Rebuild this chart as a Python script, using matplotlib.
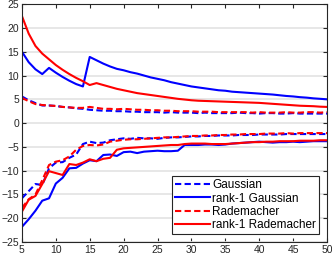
import numpy as np
import matplotlib
matplotlib.use('Agg')
import matplotlib.pyplot as plt

plt.rcParams['font.family'] = ['Liberation Sans', 'DejaVu Sans']

# number of samples
n = np.arange(5, 51)

# upper curves
gauss_up = [5.6, 4.8, 4.2, 3.7, 3.7, 3.6, 3.4, 3.3, 3.1, 3.0,
            2.8, 2.7, 2.6, 2.6, 2.5, 2.5, 2.4, 2.4, 2.3, 2.3,
            2.3, 2.2, 2.3, 2.2, 2.2, 2.2, 2.1, 2.2, 2.1, 2.1,
            2.1, 2.1, 2.2, 2.1, 2.1, 2.0, 2.1, 2.1, 2.0, 2.0,
            2.1, 2.0, 2.0, 2.0, 2.0, 2.0]
rank1_gauss_up = [15.0, 12.8, 11.3, 10.3, 11.6, 10.6, 9.7, 8.9, 8.2, 7.7,
                  13.9, 13.2, 12.5, 11.9, 11.4, 11.1, 10.7, 10.4, 10.0, 9.6,
                  9.3, 9.0, 8.6, 8.3, 8.0, 7.7, 7.5, 7.3, 7.1, 6.9,
                  6.8, 6.6, 6.5, 6.4, 6.3, 6.2, 6.1, 6.0, 5.85, 5.7,
                  5.6, 5.45, 5.35, 5.2, 5.1, 5.0]
radem_up = [5.3, 4.6, 4.0, 3.8, 3.7, 3.6, 3.4, 3.3, 3.2, 3.2,
            3.4, 3.2, 3.0, 3.0, 2.9, 3.0, 2.9, 2.8, 2.8, 2.7,
            2.7, 2.6, 2.6, 2.5, 2.5, 2.5, 2.4, 2.4, 2.4, 2.3,
            2.3, 2.3, 2.3, 2.3, 2.2, 2.3, 2.2, 2.2, 2.2, 2.3,
            2.2, 2.2, 2.3, 2.3, 2.2, 2.3]
rank1_radem_up = [22.5, 18.8, 16.2, 14.6, 13.4, 12.2, 11.2, 10.3, 9.5, 8.8,
                  8.0, 8.4, 8.0, 7.6, 7.2, 6.9, 6.6, 6.3, 6.1, 5.9,
                  5.7, 5.5, 5.3, 5.1, 4.95, 4.8, 4.7, 4.65, 4.6, 4.55,
                  4.5, 4.45, 4.4, 4.35, 4.3, 4.25, 4.15, 4.05, 3.95, 3.85,
                  3.75, 3.65, 3.6, 3.55, 3.45, 3.4]

# lower curves
gauss_lo = [-15.8, -14.3, -12.8, -13.0, -9.5, -8.3, -8.2, -7.3, -6.6, -4.4,
            -3.9, -4.2, -4.1, -3.6, -3.4, -3.2, -3.3, -3.1, -3.2, -3.2,
            -3.3, -3.1, -3.0, -3.0, -2.9, -2.8, -2.8, -2.7, -2.7, -2.6,
            -2.6, -2.6, -2.5, -2.5, -2.5, -2.4, -2.4, -2.4, -2.4, -2.3,
            -2.3, -2.3, -2.3, -2.3, -2.3, -2.3]
rank1_gauss_lo = [-21.8, -20.2, -18.4, -16.3, -15.8, -12.7, -11.5, -9.5, -9.4, -8.5,
                  -7.8, -8.0, -6.7, -6.6, -6.9, -6.1, -6.0, -6.3, -6.0, -5.9,
                  -5.8, -5.9, -5.9, -5.8, -4.6, -4.6, -4.6, -4.5, -4.5, -4.6,
                  -4.5, -4.3, -4.2, -4.1, -4.0, -3.9, -4.0, -4.1, -4.0, -4.0,
                  -3.9, -4.0, -3.9, -3.8, -3.8, -3.8]
radem_lo = [-17.8, -16.0, -15.0, -12.0, -8.8, -8.1, -7.8, -7.0, -5.6, -4.8,
            -4.6, -4.7, -4.5, -3.9, -3.7, -3.5, -3.4, -3.4, -3.3, -3.2,
            -3.1, -3.0, -3.0, -2.9, -2.8, -2.7, -2.7, -2.6, -2.6, -2.5,
            -2.5, -2.4, -2.4, -2.3, -2.3, -2.3, -2.2, -2.2, -2.2, -2.1,
            -2.2, -2.1, -2.1, -2.1, -2.1, -2.1]
rank1_radem_lo = [-18.6, -16.1, -15.3, -12.8, -10.1, -10.5, -10.9, -8.6, -8.8, -8.3,
                  -7.6, -8.0, -7.5, -7.3, -5.6, -5.3, -5.2, -5.1, -5.0, -4.9,
                  -4.8, -4.7, -4.6, -4.6, -4.4, -4.3, -4.3, -4.3, -4.4, -4.4,
                  -4.4, -4.3, -4.2, -4.1, -4.0, -4.0, -3.9, -3.9, -3.8, -3.8,
                  -3.8, -3.7, -3.7, -3.7, -3.6, -3.6]

lw = 1.5
dash = (3, 1.6)

fig = plt.figure(figsize=(3.32, 2.57), dpi=100)
ax = fig.add_axes([0.066, 0.058, 0.919, 0.926])

ax.plot(n, gauss_up, color='#0000ff', lw=lw, ls='--', dashes=dash, label='Gaussian')
ax.plot(n, rank1_gauss_up, color='#0000ff', lw=lw, label='rank-1 Gaussian')
ax.plot(n, radem_up, color='#ff0000', lw=lw, ls='--', dashes=dash, label='Rademacher')
ax.plot(n, rank1_radem_up, color='#ff0000', lw=lw, label='rank-1 Rademacher')
ax.plot(n, gauss_lo, color='#0000ff', lw=lw, ls='--', dashes=dash)
ax.plot(n, rank1_gauss_lo, color='#0000ff', lw=lw)
ax.plot(n, radem_lo, color='#ff0000', lw=lw, ls='--', dashes=dash)
ax.plot(n, rank1_radem_lo, color='#ff0000', lw=lw)

ax.set_xlim(5, 50)
ax.set_ylim(-25, 25)
ax.set_xticks(np.arange(5, 51, 5))
ax.set_yticks(np.arange(-25, 26, 5))
ax.yaxis.grid(True, color='#e3e3e3', lw=1.2)
ax.set_axisbelow(True)
ax.tick_params(direction='in', top=True, right=True, length=3, width=0.8,
               labelsize=7.5, pad=2, colors='#262626')
for s in ax.spines.values():
    s.set_color('#262626')
    s.set_linewidth(0.8)

leg = ax.legend(loc='lower right', fontsize=8.5, fancybox=False, framealpha=1,
                edgecolor='#262626', handlelength=2.9, handletextpad=0.2,
                borderpad=0.25, labelspacing=0.1, borderaxespad=0.7)
leg.get_frame().set_linewidth(0.8)

fig.savefig('out.png', dpi=100)
